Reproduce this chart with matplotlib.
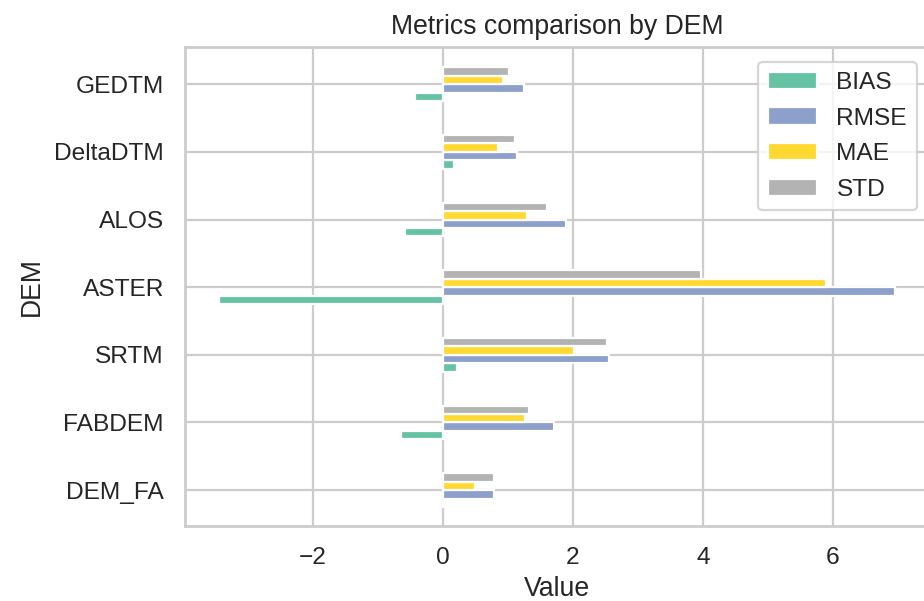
import numpy as np
import matplotlib as mpl
mpl.use("Agg")
import matplotlib.pyplot as plt
import seaborn as sns


dems = ["DEM_FA", "FABDEM", "SRTM", "ASTER", "ALOS", "DeltaDTM", "GEDTM"]
metrics = ["BIAS", "RMSE", "MAE", "STD"]

bias = [0.01, -0.64, 0.21, -3.44, -0.58, 0.17, -0.43]
rmse = [0.78, 1.71, 2.55, 6.96, 1.89, 1.14, 1.25]
mae = [0.49, 1.27, 2.01, 5.89, 1.30, 0.85, 0.92]
std = [0.78, 1.33, 2.53, 3.97, 1.60, 1.11, 1.01]

colors = ["#66c2a5", "#8da0cb", "#ffd92f", "#b3b3b3"]


def main():
  sns.set_theme(style="whitegrid")
  plt.rcParams["font.family"] = ["Liberation Sans", "DejaVu Sans"]

  fig = plt.figure(figsize=(924 / 160, 601 / 160), dpi=160)
  ax = fig.add_axes([0.2002, 0.1248, 0.8052, 0.797])

  series = [bias, rmse, mae, std]
  pos = np.arange(len(dems))
  barWidth = 0.5 / len(series)

  for i, (name, values) in enumerate(zip(metrics, series)):
    offset = (i - (len(series) - 1) / 2) * barWidth
    ax.barh(pos + offset, values, height=barWidth, color=colors[i],
        edgecolor="white", linewidth=1, label=name)

  ax.set_yticks(pos)
  ax.set_yticklabels(dems)
  ax.set_ylim(-0.53, 6.55)
  ax.set_xlim(-3.97, 7.48)
  ax.set_xticks([-2, 0, 2, 4, 6])

  ax.set_title("Metrics comparison by DEM")
  ax.set_xlabel("Value", labelpad=3)
  ax.set_ylabel("DEM")
  ax.legend(loc="upper right", bbox_to_anchor=(1.0, 0.994), labelspacing=0.55)

  fig.savefig("out.png", dpi=160)


if __name__ == "__main__":
  main()
